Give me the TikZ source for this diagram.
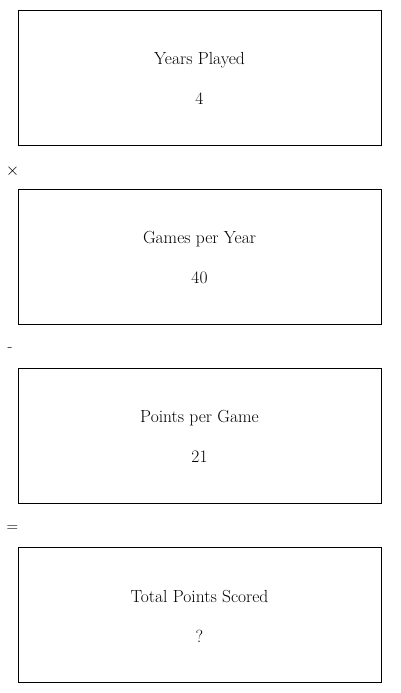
\documentclass[tikz,border=0pt]{standalone}
\begin{document}
\begin{tikzpicture}[x=1pt,y=-1pt,
  card/.style={draw=black,line width=0.9pt,minimum width=363pt,minimum height=135pt,anchor=north west,inner sep=0pt},
  lbl/.style={font=\fontsize{17.5}{20}\selectfont,anchor=center},
  op/.style={font=\fontsize{16}{18}\selectfont,anchor=center}]
\useasboundingbox (0,0) rectangle (400,693);
\node[card] (b1) at (18,10) {};
\node[card] (b2) at (18,189) {};
\node[card] (b3) at (18,368) {};
\node[card] (b4) at (18,547) {};
\node[lbl] (t1) at (199.5,60) {Years Played};
\node[lbl] (v1) at (199.5,99) {4};
\node[lbl] (t2) at (199.5,239) {Games per Year};
\node[lbl] (v2) at (199.5,278) {40};
\node[lbl] (t3) at (199.5,418) {Points per Game};
\node[lbl] (v3) at (199.5,457) {21};
\node[lbl] (t4) at (199.5,597) {Total Points Scored};
\node[lbl] (v4) at (199.5,636) {?};
\node[op] (o1) at (12.5,171) {$\times$};
\node[op] (o2) at (10,350) {-};
\node[op] (o3) at (12.5,529) {=};
\end{tikzpicture}
\end{document}
